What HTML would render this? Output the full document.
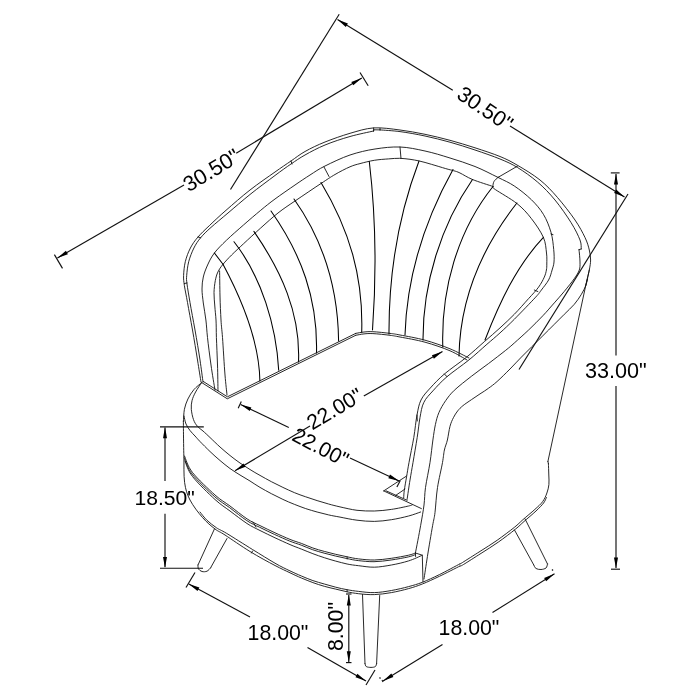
<!DOCTYPE html>
<html lang="en"><head><meta charset="utf-8"><title>Chair dimensions</title>
<style>html,body{margin:0;padding:0;background:#fff}body{width:700px;height:700px;overflow:hidden}svg{display:block;will-change:transform}.c{fill:none;stroke:#111;stroke-width:0.9;stroke-linecap:round;stroke-linejoin:round}.h{stroke-width:1.05;stroke:#000}.d{fill:none;stroke:#111;stroke-width:1.15;stroke-linecap:butt}.a{fill:#000;stroke:none}text{font-family:"Liberation Sans",Arial,Helvetica,sans-serif;font-size:21.3px;fill:#000;text-anchor:middle}</style></head><body>
<svg width="700" height="700" viewBox="0 0 700 700">
<rect width="700" height="700" fill="#fff"/>
<g class="c">
<path d="M201.0 382.0C200.4 378.3 198.9 368.7 197.5 360.0C196.1 351.3 194.2 339.6 192.5 330.0C190.8 320.4 188.8 309.9 187.5 302.5C186.2 295.1 185.1 290.2 184.4 285.7C183.8 281.2 183.4 279.4 183.6 275.4C183.8 271.4 184.2 266.3 185.3 261.7C186.4 257.1 188.3 252.1 190.4 248.0C192.5 243.9 194.8 240.7 198.0 237.0C201.2 233.3 204.6 230.1 209.3 225.7C214.0 221.2 219.2 216.2 226.0 210.3C232.8 204.4 241.8 196.4 250.0 190.0C258.2 183.6 268.2 176.8 275.0 172.0C281.8 167.2 286.0 164.4 291.0 161.0C296.0 157.6 299.3 154.7 305.0 151.5C310.7 148.3 317.5 145.0 325.0 142.0C332.5 139.0 341.9 135.7 350.0 133.3C358.1 131.0 365.3 128.5 373.6 127.9C381.9 127.4 391.4 128.9 400.0 130.0C408.6 131.1 416.7 132.6 425.0 134.3C433.3 136.0 441.7 138.1 450.0 140.3C458.3 142.6 466.7 145.1 475.0 147.8C483.3 150.5 492.9 153.6 500.0 156.5C507.1 159.4 511.0 161.5 517.7 165.4C524.4 169.3 533.4 174.7 540.0 180.0C546.6 185.3 551.7 190.8 557.5 197.5C563.3 204.2 570.4 213.3 575.0 220.0C579.6 226.7 582.6 232.5 585.0 237.5C587.4 242.5 588.4 246.2 589.3 250.0C590.2 253.8 590.6 256.7 590.6 260.0C590.6 263.3 590.1 265.7 589.3 270.0C588.5 274.3 586.3 283.1 585.7 285.7"/>
<path d="M589.3 270.0L585.7 285.7L547.9 461.5"/>
<path d="M547.9 461.5L548.4 463.5"/>
<path d="M548.4 463.5C548.5 465.4 548.7 471.5 548.8 475.0C548.9 478.5 549.2 481.6 548.9 484.6C548.6 487.6 547.9 490.1 546.9 493.0C545.9 495.9 544.6 499.0 542.6 501.7C540.6 504.4 538.2 506.4 534.9 509.4C531.6 512.4 526.3 516.7 522.9 519.7C519.5 522.7 518.6 524.0 514.3 527.4C510.0 530.8 502.8 536.3 497.1 540.3C491.4 544.3 485.8 547.7 480.0 551.4C474.2 555.1 465.8 560.4 462.5 562.5C459.2 564.6 460.4 563.6 460.0 563.8"/>
<path d="M546.4 497.5C545.9 498.4 545.3 500.8 543.6 503.0C541.9 505.2 539.3 507.9 536.0 511.0C532.7 514.1 527.4 518.5 524.0 521.5C520.6 524.5 519.7 525.8 515.4 529.2C511.1 532.7 503.9 538.2 498.2 542.2C492.5 546.2 486.8 549.7 481.0 553.4C475.2 557.1 467.0 562.4 463.5 564.5C460.0 566.6 460.6 565.8 460.0 566.0"/>
<path d="M203.0 382.0C202.5 378.3 201.3 368.7 200.0 360.0C198.7 351.3 196.7 339.6 195.0 330.0C193.3 320.4 191.3 310.2 190.0 302.5C188.7 294.8 187.6 288.5 187.0 284.0C186.4 279.5 186.4 279.1 186.7 275.4C187.0 271.7 187.5 266.3 188.7 261.7C189.9 257.1 191.9 252.0 193.9 248.0C195.9 244.0 197.8 241.1 200.7 237.7C203.5 234.3 206.4 231.5 211.0 227.4C215.6 223.3 221.5 218.5 228.0 213.0C234.5 207.5 242.2 200.8 250.0 194.5C257.8 188.2 268.2 180.6 275.0 175.5C281.8 170.4 286.0 167.4 291.0 164.0C296.0 160.6 299.3 158.2 305.0 155.0C310.7 151.8 317.5 148.1 325.0 145.0C332.5 141.9 341.9 138.8 350.0 136.5C358.1 134.2 369.7 131.9 373.6 131.0"/>
<path d="M373.6 131.0L373.8 129.8L380.0 129.9"/>
<path d="M380.0 129.9C383.3 130.2 392.5 130.6 400.0 131.6C407.5 132.6 416.7 134.2 425.0 136.0C433.3 137.8 441.7 139.9 450.0 142.2C458.3 144.5 466.7 147.2 475.0 150.0C483.3 152.8 492.9 156.1 500.0 159.0C507.1 161.9 511.2 163.7 517.5 167.5C523.8 171.3 531.2 176.6 537.5 182.0C543.8 187.4 549.4 193.2 555.0 200.0C560.6 206.8 566.8 215.8 571.0 222.5C575.2 229.2 578.3 235.6 580.0 240.0C581.7 244.4 581.0 247.5 581.2 249.0"/>
<path d="M581.2 249.0L579.0 249.6"/>
<path d="M579.0 249.6C579.2 251.7 580.0 258.6 580.0 262.0C580.0 265.4 580.2 267.2 579.3 270.0C578.3 272.8 576.8 275.0 574.3 278.6C571.8 282.2 567.6 287.3 564.3 291.4C561.0 295.4 557.9 298.8 554.3 302.9C550.7 306.9 547.2 311.2 542.9 315.7C538.6 320.2 533.4 325.4 528.6 330.0C523.8 334.6 518.1 339.6 514.3 343.0C510.5 346.4 510.0 346.9 505.7 350.3C501.4 353.7 494.3 359.2 488.6 363.5C482.9 367.8 477.1 371.8 471.4 376.3C465.7 380.8 458.6 386.2 454.3 390.3C450.0 394.4 448.3 396.9 445.7 400.6C443.1 404.3 440.6 408.6 438.9 412.6C437.2 416.6 436.4 420.0 435.4 424.6C434.4 429.2 433.8 433.7 432.9 440.0C432.0 446.3 431.2 454.6 430.0 462.5C428.8 470.4 426.5 480.4 425.5 487.5C424.5 494.6 424.8 498.6 424.0 505.0C423.2 511.4 422.0 517.7 420.6 525.7C419.2 533.7 416.3 548.5 415.4 553.0"/>
<path d="M198.0 237.0L200.7 237.7"/>
<path d="M184.4 283.5L187.0 283.0"/>
<path d="M291.0 161.0L292.0 164.0"/>
<path d="M373.6 127.9L373.6 131.0"/>
<path d="M380.0 128.4L380.0 129.9"/>
<path d="M587.5 279.0C587.2 280.1 586.7 283.1 585.7 285.7C584.7 288.2 583.3 291.2 581.4 294.3C579.5 297.4 577.1 301.0 574.3 304.3C571.4 307.6 567.6 311.0 564.3 314.3C561.0 317.6 557.9 320.7 554.3 324.3C550.7 327.9 546.7 331.9 542.9 335.7C539.1 339.5 535.0 343.5 531.4 347.1C527.8 350.7 525.0 353.5 521.4 357.1C517.8 360.8 514.0 364.9 510.0 369.0C505.9 373.1 500.7 378.3 497.1 381.5C493.5 384.7 491.5 386.1 488.6 388.2C485.8 390.3 482.9 392.0 480.0 393.9C477.1 395.8 474.2 397.7 471.4 399.7C468.5 401.7 465.2 403.8 462.9 405.7C460.6 407.6 459.3 408.9 457.7 410.9C456.1 412.9 454.7 415.1 453.4 417.7C452.1 420.3 451.0 422.6 450.0 426.3C449.0 430.0 448.3 436.1 447.4 440.0C446.5 443.9 445.2 446.2 444.4 450.0C443.6 453.8 443.6 456.2 442.5 462.5C441.4 468.8 438.8 479.2 437.5 487.5C436.2 495.8 435.8 506.1 435.0 512.5C434.2 518.9 433.9 518.4 432.6 525.7C431.3 533.1 428.8 547.7 427.4 556.6C426.0 565.5 424.6 575.3 424.0 579.0"/>
<path d="M215.0 390.0C214.3 385.8 212.2 373.8 211.0 365.0C209.8 356.2 208.3 345.0 207.5 337.5C206.7 330.0 206.6 325.8 205.9 320.0C205.2 314.2 204.0 308.2 203.3 303.0C202.7 297.8 202.0 293.3 202.0 289.0C202.0 284.7 202.4 281.0 203.3 277.0C204.2 273.0 205.8 269.0 207.6 265.0C209.4 261.0 211.3 257.1 214.4 253.0C217.5 248.9 221.5 245.0 226.4 240.3C231.3 235.6 237.9 229.9 243.6 224.9C249.3 219.9 255.5 214.6 260.7 210.3C265.9 206.0 269.3 203.2 275.0 199.0C280.7 194.8 289.2 189.0 295.0 185.0C300.8 181.0 305.0 178.2 310.0 175.0C315.0 171.8 318.3 169.3 325.0 166.0C331.7 162.7 341.7 157.8 350.0 155.0C358.3 152.2 366.7 150.3 375.0 149.0C383.3 147.7 391.7 146.7 400.0 147.0C408.3 147.3 416.7 149.2 425.0 151.0C433.3 152.8 441.7 155.4 450.0 158.0C458.3 160.6 467.0 163.3 475.0 166.5C483.0 169.7 491.4 174.2 498.0 177.4C504.6 180.7 508.7 182.3 514.3 186.0C519.9 189.7 526.5 195.0 531.4 199.7C536.2 204.4 540.1 208.9 543.4 214.3C546.7 219.7 549.3 226.5 551.0 232.3C552.7 238.2 553.2 244.5 553.7 249.4C554.2 254.3 554.3 258.6 554.0 262.0C553.7 265.4 553.0 267.0 552.1 270.0C551.2 273.0 550.4 276.7 548.6 280.0C546.8 283.3 543.5 287.1 541.4 290.0C539.2 292.9 540.2 292.2 535.7 297.1C531.2 302.0 520.2 313.3 514.3 319.3C508.3 325.3 504.6 328.7 500.0 332.9C495.4 337.1 492.1 339.8 486.9 344.3C481.7 348.8 475.5 354.6 468.9 360.0C462.2 365.4 453.0 371.6 447.0 376.7C441.0 381.8 436.8 386.6 432.9 390.9C429.0 395.2 425.9 398.1 423.8 402.5C421.6 406.9 421.1 411.7 420.0 417.5C418.9 423.3 418.4 430.0 417.2 437.5C416.0 445.0 414.2 455.4 413.0 462.5C411.8 469.6 411.0 473.9 410.0 480.0C409.0 486.1 407.6 496.2 407.1 499.4"/>
<path d="M218.0 391.0C217.9 386.7 217.8 373.9 217.5 365.0C217.2 356.1 216.7 345.0 216.4 337.5C216.2 330.0 216.3 325.2 216.0 320.0C215.7 314.8 215.1 310.6 214.8 306.0C214.5 301.4 213.9 296.8 214.0 292.6C214.1 288.4 214.7 284.0 215.3 280.6C216.0 277.2 216.6 274.7 217.9 272.0C219.2 269.3 220.7 267.1 223.0 264.3C225.3 261.5 228.2 258.4 231.6 255.0C235.0 251.6 238.8 248.2 243.6 243.7C248.4 239.2 255.0 233.1 260.7 228.0C266.4 222.9 272.3 217.5 278.0 213.0C283.7 208.5 287.8 205.9 295.0 201.0C302.2 196.1 314.3 187.9 321.0 183.5C327.7 179.1 330.2 177.3 335.0 174.5C339.8 171.7 345.8 168.6 350.0 166.8C354.2 165.0 355.9 164.7 360.0 163.6C364.1 162.5 369.5 161.1 374.3 160.3C379.1 159.5 384.4 159.2 388.6 158.9C392.8 158.6 396.1 158.2 399.7 158.3C403.3 158.4 406.7 158.9 410.0 159.3C413.3 159.8 415.7 160.2 419.3 161.0C422.9 161.8 427.0 163.0 431.4 164.3C435.8 165.6 442.0 167.5 445.7 168.6C449.4 169.7 451.2 170.0 453.6 170.7C456.0 171.4 456.9 171.5 460.0 173.0C463.1 174.5 467.0 177.2 472.5 179.5C478.0 181.8 489.6 185.3 493.0 186.5"/>
<path d="M498.0 177.4C497.3 178.1 494.8 180.0 494.0 181.5C493.2 183.0 492.8 185.2 493.0 186.5C493.2 187.8 491.4 186.8 495.4 189.6C499.4 192.4 510.9 198.7 516.9 203.5C522.9 208.3 527.0 212.9 531.4 218.6C535.8 224.2 540.9 231.7 543.4 237.4C545.9 243.1 545.9 248.6 546.5 253.0C547.1 257.4 546.8 261.2 546.8 264.0C546.8 266.8 546.8 267.8 546.4 270.0C546.0 272.2 545.6 274.2 544.3 277.1C543.0 280.0 541.2 283.5 538.6 287.1C536.0 290.7 532.7 294.1 528.6 298.6C524.5 303.1 519.1 309.4 514.3 314.3C509.5 319.2 505.0 323.3 500.0 327.9C495.0 332.5 489.9 336.8 484.3 341.7C478.7 346.6 473.0 352.0 466.3 357.4C459.6 362.8 450.4 368.9 444.4 374.0C438.4 379.1 434.2 383.7 430.3 388.0C426.4 392.3 423.2 395.5 421.0 400.0C418.8 404.5 418.2 408.8 417.0 415.0C415.8 421.2 415.1 429.6 413.8 437.5C412.4 445.4 410.2 456.0 409.0 462.5C407.8 469.0 407.4 472.0 406.6 476.6C405.8 481.2 404.8 486.8 404.3 490.3C403.8 493.8 403.8 496.5 403.7 497.7"/>
<path d="M219.6 271.0C219.7 275.2 219.8 287.8 220.0 296.0C220.2 304.2 220.6 313.1 221.0 320.0C221.4 326.9 221.8 328.3 222.5 337.5C223.2 346.7 224.2 365.4 225.0 375.0C225.8 384.6 226.7 391.7 227.0 395.0"/>
<path d="M324.0 167.0L329.0 176.5"/>
<path d="M400.0 147.0L401.0 158.5"/>
<path d="M498.0 177.4L517.7 166.0"/>
<path d="M551.0 234.0L553.0 234.6"/>
<path d="M537.9 291.6L534.3 290.0"/>
<path d="M447.0 376.7L444.4 374.0"/>
<path d="M417.0 415.0L417.3 421.0"/>
<path class="h" d="M223.0 264.3C242.0 299.8 259.2 340.0 259.9 381.0"/>
<path class="h" d="M234.0 241.7C261.6 276.9 276.3 326.1 278.7 370.3"/>
<path class="h" d="M253.9 231.4C281.0 270.6 300.7 313.1 298.5 362.0"/>
<path class="h" d="M271.0 211.0C301.4 254.1 317.9 299.2 316.5 353.0"/>
<path class="h" d="M294.0 199.0C323.8 241.0 338.0 289.6 338.6 341.0"/>
<path class="h" d="M321.0 182.5C349.5 230.0 363.4 276.9 361.7 332.6"/>
<path class="h" d="M369.3 161.5C376.0 218.0 376.6 273.2 372.5 330.0"/>
<path class="h" d="M419.0 161.0C398.2 215.9 388.7 275.4 389.0 334.0"/>
<path class="h" d="M453.0 169.5C425.1 219.7 406.8 277.3 405.0 335.0"/>
<path class="h" d="M472.5 179.5C440.7 225.5 422.8 284.0 423.0 340.0"/>
<path class="h" d="M493.0 186.5C457.1 231.2 441.0 290.2 442.8 347.0"/>
<path class="h" d="M516.9 203.0C482.3 247.2 460.0 299.3 459.0 356.0"/>
<path class="h" d="M543.4 237.4C516.2 266.2 499.2 303.6 485.0 340.0"/>
<path class="h" d="M214.4 253.0L223.0 264.3"/>
<path d="M201.6 382.5L227.3 398.8L355.7 335.3"/>
<path d="M203.2 381.4L227.4 396.8L355.7 333.4"/>
<path d="M355.7 335.3C357.1 335.1 361.1 334.2 364.0 333.9C366.9 333.6 368.6 333.4 372.9 333.6C377.2 333.8 385.5 334.7 390.0 335.3C394.5 335.9 394.2 335.9 400.0 337.0C405.8 338.1 416.7 339.9 425.0 342.2C433.3 344.5 443.0 347.8 450.0 350.8C457.0 353.8 464.2 358.5 467.0 360.0"/>
<path d="M355.7 333.4C357.1 333.2 361.1 332.3 364.0 332.0C366.9 331.7 368.6 331.5 372.9 331.7C377.2 331.9 385.5 332.8 390.0 333.4C394.5 333.9 394.2 333.9 400.0 335.0C405.8 336.1 416.7 337.9 425.0 340.2C433.3 342.5 442.7 345.8 450.0 348.8C457.3 351.8 465.8 356.5 469.0 358.0"/>
<path d="M201.6 382.7C200.6 384.2 197.2 389.0 195.6 392.0C194.0 395.0 192.7 397.8 192.0 400.7C191.3 403.6 191.1 406.1 191.3 409.3C191.6 412.5 192.5 416.8 193.5 419.6C194.5 422.5 195.9 424.5 197.5 426.4C199.1 428.3 200.9 429.1 203.0 431.0C205.1 432.9 207.2 434.8 210.0 437.5C212.8 440.2 216.7 444.0 220.0 447.0C223.3 450.0 226.7 452.8 230.0 455.5C233.3 458.2 236.7 460.7 240.0 463.0C243.3 465.3 246.7 467.4 250.0 469.5C253.3 471.6 256.4 473.4 260.0 475.4C263.6 477.4 267.6 479.7 271.4 481.7C275.2 483.7 279.1 485.6 282.9 487.4C286.7 489.2 290.5 491.0 294.3 492.6C298.1 494.2 301.9 495.5 305.7 496.8C309.5 498.1 313.3 499.4 317.1 500.6C320.9 501.8 324.8 502.9 328.6 504.0C332.4 505.1 335.3 505.8 340.0 506.9C344.7 507.9 351.3 509.6 357.0 510.3C362.7 511.0 368.6 511.1 374.3 511.0C380.0 510.9 385.7 510.2 391.4 509.4C397.1 508.6 405.1 506.8 408.6 506.0C412.1 505.2 411.7 505.0 412.3 504.8"/>
<path d="M201.6 382.7C200.3 383.9 196.2 386.9 193.9 389.6C191.6 392.3 189.5 395.7 187.9 399.0C186.3 402.3 185.2 405.6 184.4 409.3C183.7 413.0 183.6 419.3 183.4 421.3"/>
<path d="M184.0 416.0C184.3 417.3 185.0 421.6 186.0 424.0C187.0 426.4 188.5 428.5 190.0 430.5C191.5 432.5 193.3 434.2 195.0 436.0C196.7 437.8 197.5 438.9 200.0 441.5C202.5 444.1 206.7 448.3 210.0 451.5C213.3 454.7 216.7 457.7 220.0 460.5C223.3 463.3 226.7 466.1 230.0 468.5C233.3 470.9 236.7 472.9 240.0 475.0C243.3 477.1 246.7 478.9 250.0 481.0C253.3 483.1 256.4 485.3 260.0 487.4C263.6 489.5 267.6 491.7 271.4 493.7C275.2 495.7 279.1 497.6 282.9 499.4C286.7 501.2 290.5 502.8 294.3 504.3C298.1 505.8 301.9 507.3 305.7 508.6C309.5 509.9 313.3 510.9 317.1 512.0C320.9 513.0 324.8 514.0 328.6 514.9C332.4 515.8 335.3 516.2 340.0 517.1C344.7 518.0 351.3 519.5 357.0 520.2C362.7 520.9 368.6 521.5 374.3 521.4C380.0 521.3 385.7 520.6 391.4 519.7C397.1 518.8 403.7 517.3 408.6 516.0C413.5 514.7 418.6 512.7 420.6 512.0"/>
<path d="M183.4 421.3C183.4 425.0 183.5 437.6 183.6 443.6C183.7 449.6 183.7 450.8 183.9 457.3C184.1 463.8 183.6 475.4 184.6 482.5C185.6 489.6 187.0 494.2 190.0 500.0C193.0 505.8 198.3 512.7 202.5 517.5C206.7 522.3 211.2 526.1 215.0 529.0C218.8 531.9 219.2 531.2 225.0 535.0C230.8 538.8 241.7 546.4 250.0 551.5C258.3 556.6 268.3 562.0 275.0 565.5C281.7 569.0 285.6 570.7 290.0 572.8C294.4 574.9 297.6 576.4 301.4 578.0C305.2 579.6 309.1 581.2 312.9 582.6C316.7 584.0 320.5 585.2 324.3 586.3C328.1 587.4 331.9 588.2 335.7 589.1C339.5 590.0 343.3 591.0 347.1 591.8C350.9 592.6 354.1 593.2 358.6 593.7C363.1 594.2 368.8 594.8 374.3 594.6C379.8 594.4 385.7 593.6 391.4 592.6C397.1 591.6 403.5 590.0 408.6 588.6C413.8 587.2 417.2 586.0 422.3 584.0C427.4 582.0 433.1 579.3 439.4 576.3C445.7 573.3 456.6 567.7 460.0 566.0"/>
<path d="M200.0 512.0C201.2 513.4 204.2 517.7 207.0 520.3C209.8 522.9 213.2 525.6 216.5 527.8C219.8 530.0 220.5 529.7 226.5 533.3C232.5 536.9 244.4 544.5 252.5 549.5C260.6 554.5 268.8 559.6 275.0 563.2C281.2 566.8 285.6 568.8 290.0 570.9C294.4 573.0 297.6 574.4 301.4 576.0C305.2 577.6 309.1 579.3 312.9 580.6C316.7 581.9 320.5 582.9 324.3 584.0C328.1 585.1 331.9 586.2 335.7 587.2C339.5 588.2 343.3 589.0 347.1 589.7C350.9 590.4 354.1 590.9 358.6 591.4C363.1 591.9 368.8 592.8 374.3 592.6C379.8 592.5 385.7 591.5 391.4 590.5C397.1 589.5 403.5 588.0 408.6 586.6C413.8 585.2 417.2 584.3 422.3 582.3C427.4 580.3 433.1 577.7 439.4 574.6C445.7 571.5 456.6 565.6 460.0 563.8"/>
<path d="M252.5 551.0L251.5 553.0"/>
<path d="M347.1 589.7L347.1 591.8"/>
<path d="M184.5 456.0C185.8 458.8 187.4 466.0 192.5 472.5C197.6 479.0 208.8 489.4 215.0 495.0C221.2 500.6 224.7 502.0 230.0 506.0C235.3 510.0 242.1 515.6 247.1 518.9C252.1 522.2 255.3 523.3 260.0 525.6C264.6 527.9 270.0 530.5 275.0 532.8C280.0 535.1 285.6 537.6 290.0 539.4C294.4 541.2 297.6 542.0 301.4 543.4C305.2 544.8 309.1 546.7 312.9 548.0C316.7 549.3 320.5 550.4 324.3 551.4C328.1 552.4 331.9 553.4 335.7 554.3C339.5 555.2 343.3 556.0 347.1 556.8C350.9 557.6 354.1 558.4 358.6 558.9C363.1 559.4 368.8 560.1 374.3 560.0C379.8 559.9 385.7 559.1 391.4 558.3C397.1 557.5 404.6 556.1 408.6 555.2C412.6 554.3 414.3 553.4 415.4 553.0"/>
<path d="M184.2 457.7C185.5 460.4 187.1 467.7 192.2 474.2C197.3 480.7 208.4 491.1 214.7 496.7C220.9 502.3 224.3 503.7 229.7 507.7C235.0 511.7 241.8 517.3 246.8 520.6C251.8 523.9 255.0 525.0 259.7 527.3C264.3 529.6 269.7 532.2 274.7 534.5C279.7 536.8 285.3 539.3 289.7 541.1C294.1 542.9 297.3 543.7 301.1 545.1C304.9 546.5 308.8 548.4 312.6 549.7C316.4 551.0 320.2 552.1 324.0 553.1C327.8 554.1 331.6 555.1 335.4 556.0C339.2 556.9 343.0 557.7 346.8 558.5C350.6 559.3 353.8 560.1 358.3 560.6C362.8 561.1 368.5 561.8 374.0 561.7C379.5 561.6 385.4 560.8 391.1 560.0C396.8 559.2 404.3 557.8 408.3 556.9C412.3 556.0 414.0 555.1 415.1 554.7"/>
<path d="M185.0 461.0C186.2 463.6 187.5 470.1 192.5 476.5C197.5 482.9 208.8 493.8 215.0 499.5C221.2 505.2 224.7 507.0 230.0 511.0C235.3 515.0 242.0 520.2 247.0 523.5C252.0 526.8 255.3 528.1 260.0 530.5C264.7 532.9 270.0 535.4 275.0 537.8C280.0 540.1 285.6 542.7 290.0 544.6C294.4 546.5 297.6 547.6 301.4 549.1C305.2 550.6 309.1 552.3 312.9 553.7C316.7 555.1 320.5 556.5 324.3 557.7C328.1 558.9 331.9 560.1 335.7 561.1C339.5 562.1 343.3 563.2 347.1 564.0C350.9 564.8 354.1 565.2 358.6 565.7C363.1 566.2 368.8 567.3 374.3 567.2C379.8 567.1 385.7 566.0 391.4 565.0C397.1 564.0 403.5 562.5 408.6 560.9C413.8 559.3 420.0 556.2 422.3 555.2"/>
<path d="M253.0 522.0L256.0 527.0"/>
<path d="M347.1 556.8L347.1 559.0"/>
<path d="M415.4 553.0L422.3 555.2L423.0 582.0"/>
<path d="M415.4 553.0L415.6 556.5"/>
<path d="M383.7 490.9L406.6 476.0"/>
<path d="M383.7 490.9L421.4 508.6"/>
<path d="M386.0 490.8L407.1 500.3"/>
<path d="M395.7 495.4L404.9 489.1"/>
<path d="M214.5 528.8L198.0 565.0"/>
<path d="M198.0 565.0C198.1 565.7 197.8 567.9 198.5 569.0C199.2 570.1 200.6 571.1 202.0 571.5C203.4 571.9 205.6 571.8 207.0 571.2C208.4 570.6 209.9 568.5 210.5 568.0"/>
<path d="M210.5 568.0L227.0 538.5"/>
<path d="M362.5 594.5L365.0 663.5"/>
<path d="M365.0 663.5C365.2 664.0 365.3 666.0 366.3 666.6C367.3 667.2 369.5 667.4 371.0 667.4C372.5 667.4 374.4 667.2 375.3 666.6C376.2 666.0 376.4 664.0 376.6 663.5"/>
<path d="M376.6 663.5L379.7 595.5"/>
<path d="M514.5 530.0L533.8 565.0"/>
<path d="M533.8 565.0C534.1 565.6 534.8 567.8 536.0 568.5C537.2 569.2 539.3 569.6 541.0 569.5C542.7 569.4 544.9 568.9 546.0 568.0C547.1 567.1 547.2 564.7 547.5 564.0"/>
<path d="M547.5 564.0L525.0 518.8"/>
</g>
<g class="d">
<path d="M54.4 254.6L62.5 268.4"/>
<path d="M57.4 258.0L184.0 185.0"/>
<path d="M236.2 153.2L361.8 78.0"/>
<path d="M360.0 72.5L368.2 85.8"/>
<path d="M339.2 14.2L230.5 189.5"/>
<path d="M337.5 19.5L452.8 90.3"/>
<path d="M510.0 126.0L624.5 197.0"/>
<path d="M628.0 194.0L519.0 369.5"/>
<path d="M610.8 172.9L619.6 172.9"/>
<path d="M616.0 174.0L616.0 355.5"/>
<path d="M616.0 386.0L616.0 568.0"/>
<path d="M611.0 569.2L620.0 569.2"/>
<path d="M160.0 426.8L203.8 426.8"/>
<path d="M160.0 568.2L203.0 568.2"/>
<path d="M165.0 427.5L165.0 481.0"/>
<path d="M165.0 513.8L165.0 567.0"/>
<path d="M241.3 401.6L238.2 408.2"/>
<path d="M240.6 404.6L288.8 427.5"/>
<path d="M235.0 470.8L310.0 426.0"/>
<path d="M363.8 396.0L442.5 351.5"/>
<path d="M350.0 458.0L399.1 481.1"/>
<path d="M400.3 480.6L396.9 486.9"/>
<path d="M195.0 572.5L186.0 587.5"/>
<path d="M188.8 584.0L250.0 617.0"/>
<path d="M307.5 647.5L366.0 681.0"/>
<path d="M375.0 670.0L366.0 685.0"/>
<path d="M383.0 681.0L442.5 644.5"/>
<path d="M492.5 612.5L554.5 573.8"/>
<path d="M379.5 677.5L380.5 678.5"/>
<path d="M382.0 680.0L383.0 682.0"/>
<path d="M552.0 569.5L553.0 570.5"/>
<path d="M346.0 594.0L351.5 594.0"/>
<path d="M346.0 662.6L351.5 662.6"/>
<path d="M348.8 595.0L348.8 662.0"/>
</g>
<g class="a">
<polygon points="57.4,258.0 65.9,250.8 67.9,254.2"/>
<polygon points="361.8,78.0 353.3,85.3 351.3,81.9"/>
<polygon points="337.5,19.5 347.9,23.5 345.8,26.9"/>
<polygon points="624.5,197.0 614.1,192.9 616.2,189.5"/>
<polygon points="616.0,173.6 618.0,184.6 614.0,184.6"/>
<polygon points="616.0,568.5 614.0,557.5 618.0,557.5"/>
<polygon points="165.0,427.2 167.0,438.2 163.0,438.2"/>
<polygon points="165.0,567.9 163.0,556.9 167.0,556.9"/>
<polygon points="240.6,404.6 251.4,407.5 249.7,411.1"/>
<polygon points="235.0,470.8 243.4,463.4 245.5,466.8"/>
<polygon points="442.5,351.5 433.9,358.7 431.9,355.2"/>
<polygon points="399.1,481.1 388.3,478.2 390.0,474.6"/>
<polygon points="188.8,584.0 199.4,587.5 197.5,591.0"/>
<polygon points="366.0,681.0 355.5,677.3 357.4,673.8"/>
<polygon points="383.0,681.0 391.3,673.5 393.4,677.0"/>
<polygon points="554.5,573.8 546.2,581.3 544.1,577.9"/>
<polygon points="348.8,594.6 350.8,605.6 346.8,605.6"/>
<polygon points="348.8,662.3 346.8,651.3 350.8,651.3"/>
</g>
<g>
<text x="215.2" y="176.6" style="font-size:21.6px" transform="rotate(-31.2 215.2 176.6)">30.50&quot;</text>
<text x="481.0" y="114.8" style="font-size:21.6px" transform="rotate(34.0 481.0 114.8)">30.50&quot;</text>
<text x="615.9" y="378.2" style="font-size:21.6px">33.00&quot;</text>
<text x="164.6" y="505.0" style="font-size:21.1px">18.50&quot;</text>
<text x="338.4" y="415.1" style="font-size:21.2px" transform="rotate(-30.6 338.4 415.1)">22.00&quot;</text>
<text x="317.3" y="453.7" style="font-size:21px" transform="rotate(27.5 317.3 453.7)">22.00&quot;</text>
<text x="278.0" y="640.0">18.00&quot;</text>
<text x="469.0" y="635.0">18.00&quot;</text>
<text x="343.0" y="626.5" transform="rotate(-90.0 343.0 626.5)">8.00&quot;</text>
</g>
</svg></body></html>
